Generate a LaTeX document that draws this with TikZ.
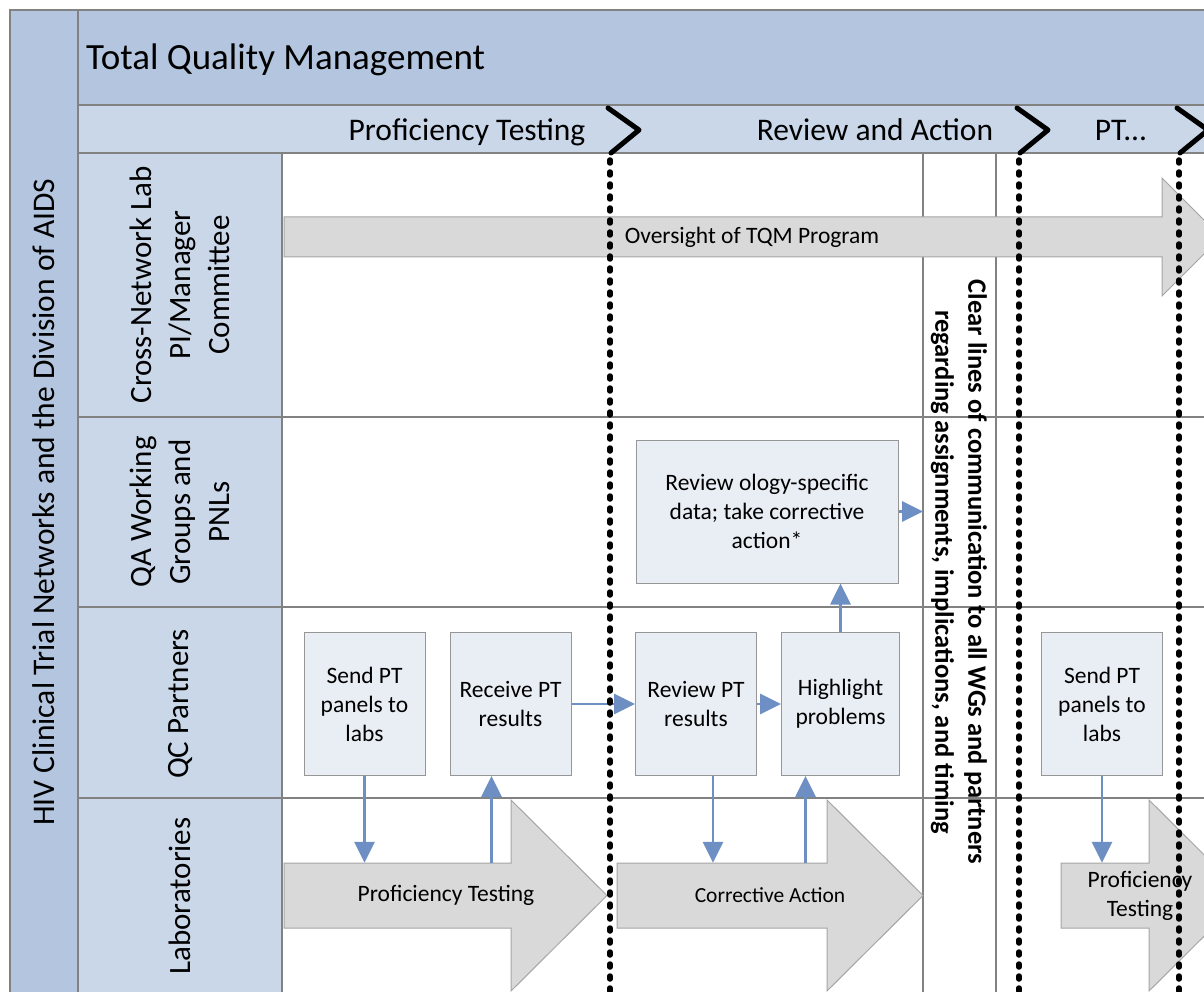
\documentclass[tikz,border=0pt]{standalone}
\usepackage{fontspec}
\setmainfont{Carlito}
\usetikzlibrary{arrows.meta,positioning,calc}

\definecolor{hdrblue}{RGB}{180,198,223}
\definecolor{lanblue}{RGB}{201,215,233}
\definecolor{gridgray}{RGB}{130,130,130}
\definecolor{boxfill}{RGB}{233,238,245}
\definecolor{boxline}{RGB}{150,150,150}
\definecolor{shaftgray}{RGB}{217,217,217}
\definecolor{shaftline}{RGB}{165,165,165}
\definecolor{flowblue}{RGB}{109,143,195}

\begin{document}
\begin{tikzpicture}[x=1pt,y=-1pt,>=Latex, every node/.style={font=\fontsize{23.5}{29}\selectfont}]
\tikzstyle{task}=[draw=boxline,line width=1pt,fill=boxfill,align=center,minimum width=121pt,minimum height=143pt,inner sep=2pt]
\tikzstyle{gridline}=[draw=gridgray,line width=1.2pt]
\tikzstyle{flowarrow}=[draw=flowblue,line width=2.8pt,-{Triangle[length=21pt,width=20pt]}]
\tikzstyle{bigarrow}=[fill=shaftgray,draw=shaftline,line width=1pt]
\tikzstyle{phasedots}=[black,line width=5.5pt,line cap=round,dash pattern=on 3pt off 9pt]
\tikzstyle{chev}=[black,line width=5pt,line cap=round,line join=round]
\tikzstyle{lanelabel}=[rotate=90,align=center,font=\fontsize{31}{39}\selectfont]
\tikzstyle{phaselabel}=[anchor=base,font=\fontsize{31.5}{38}\selectfont]
\tikzstyle{shaftlabel}=[minimum height=65pt,inner sep=0pt,align=center]
\useasboundingbox (0,0) rectangle (1204,992);
\clip (0,0) rectangle (1204,992);
\fill[white] (0,0) rectangle (1204,992);
% bands
\fill[hdrblue] (10,10) rectangle (1210,105);
\fill[hdrblue] (10,105) rectangle (78,1000);
\fill[lanblue] (78,105) rectangle (1210,153);
\fill[lanblue] (78,153) rectangle (282,1000);
\draw[gridline] (10,1000) -- (10,10) -- (1210,10);
\draw[gridline] (78,10) -- (78,1000);
\draw[gridline] (78,105) -- (1210,105);
\foreach \y in {153,417,607,798} \draw[gridline] (78,\y) -- (1210,\y);
\foreach \x in {282,923,996} \draw[gridline] (\x,153) -- (\x,1000);
\coordinate (colL) at (923,153);
% headings
\node[anchor=base west,inner sep=0pt,font=\fontsize{37}{44}\selectfont] (tqmtitle) at (86,70) {Total Quality Management};
\node[rotate=90,font=\fontsize{31.5}{38}\selectfont] (hiv) at (44,502) {HIV Clinical Trial Networks and the Division of AIDS};
\node[lanelabel] (cross) at (180,285) {Cross-Network Lab\\PI/Manager\\Committee};
\node[lanelabel] (qawg) at (180,512) {QA Working\\Groups and\\PNLs};
\node[lanelabel] (qcp) at (180,704) {QC Partners};
\node[lanelabel] (labs) at (180,896) {Laboratories};
% big grey arrows
\draw[bigarrow] (284,217) -- (1162,217) -- (1162,178) -- (1221,237) -- (1162,296) -- (1162,257) -- (284,257) -- cycle;
\draw[bigarrow] (284,863) -- (511,863) -- (511,800) -- (607,895.5) -- (511,991) -- (511,928) -- (284,928) -- cycle;
\draw[bigarrow] (617,863) -- (827,863) -- (827,800) -- (923,895.5) -- (827,991) -- (827,928) -- (617,928) -- cycle;
\draw[bigarrow] (1061,863) -- (1149,863) -- (1149,800) -- (1245,895.5) -- (1149,991) -- (1149,928) -- (1061,928) -- cycle;
\node[shaftlabel,minimum height=40pt] (tqmlab) at (752,237) {Oversight of TQM Program};
\node[shaftlabel] (ptlab) at (446,895.5) {Proficiency Testing};
\node[shaftlabel,font=\fontsize{21.5}{27}\selectfont] (calab) at (770,895.5) {Corrective Action};
\node[shaftlabel] (ptlab2) at (1140,895.5) {Proficiency\\Testing};
% tasks
\node[task] (send1) at (364.5,704) {Send PT\\panels to\\labs};
\node[task,right=24pt of send1] (recv) {Receive PT\\results};
\node[task] (rev) at (696,704) {Review PT\\results};
\node[task,right=24pt of rev,minimum width=118pt] (high) {Highlight\\problems};
\node[task,minimum width=262pt] (ology) at (767,511.5) {Review ology-specific\\data; take corrective\\action*};
\node[task] (send2) at (1102,704) {Send PT\\panels to\\labs};
\coordinate (recvin) at ([xshift=-19pt]recv.south);
\coordinate (revout) at ([xshift=17pt]rev.south);
\coordinate (highin) at ([xshift=-35pt]high.south);
\draw[flowarrow] (send1.south) -- (send1.south |- ptlab.north);
\draw[flowarrow] (recvin |- ptlab.north) -- (recvin);
\draw[flowarrow] (recv.east) -- (rev.west);
\draw[flowarrow] (rev.east) -- (high.west);
\draw[flowarrow] (revout) -- (revout |- calab.north);
\draw[flowarrow] (highin |- calab.north) -- (highin);
\draw[flowarrow] (high.north) -- (high.north |- ology.south);
\draw[flowarrow] (ology.east) -- (ology.east -| colL);
\draw[flowarrow] (send2.south) -- (send2.south |- ptlab2.north);
% phases
\foreach \x in {610,1019,1179} {
  \draw[chev] (\x-2,108) -- (\x+29,130) -- (\x+1,153);
  \draw[phasedots] (\x,160) -- (\x,1000);
}
\node[phaselabel] (ptphase) at (467,141) {Proficiency Testing};
\node[phaselabel] (raphase) at (875,141) {Review and Action};
\node[phaselabel] (ptmore) at (1121,141) {PT...};
\node[rotate=-90,align=center,font=\bfseries\fontsize{26.5}{33}\selectfont] (clear) at (959,572) {Clear lines of communication to all WGs and partners\\regarding assignments, implications, and timing};
\end{tikzpicture}
\end{document}
